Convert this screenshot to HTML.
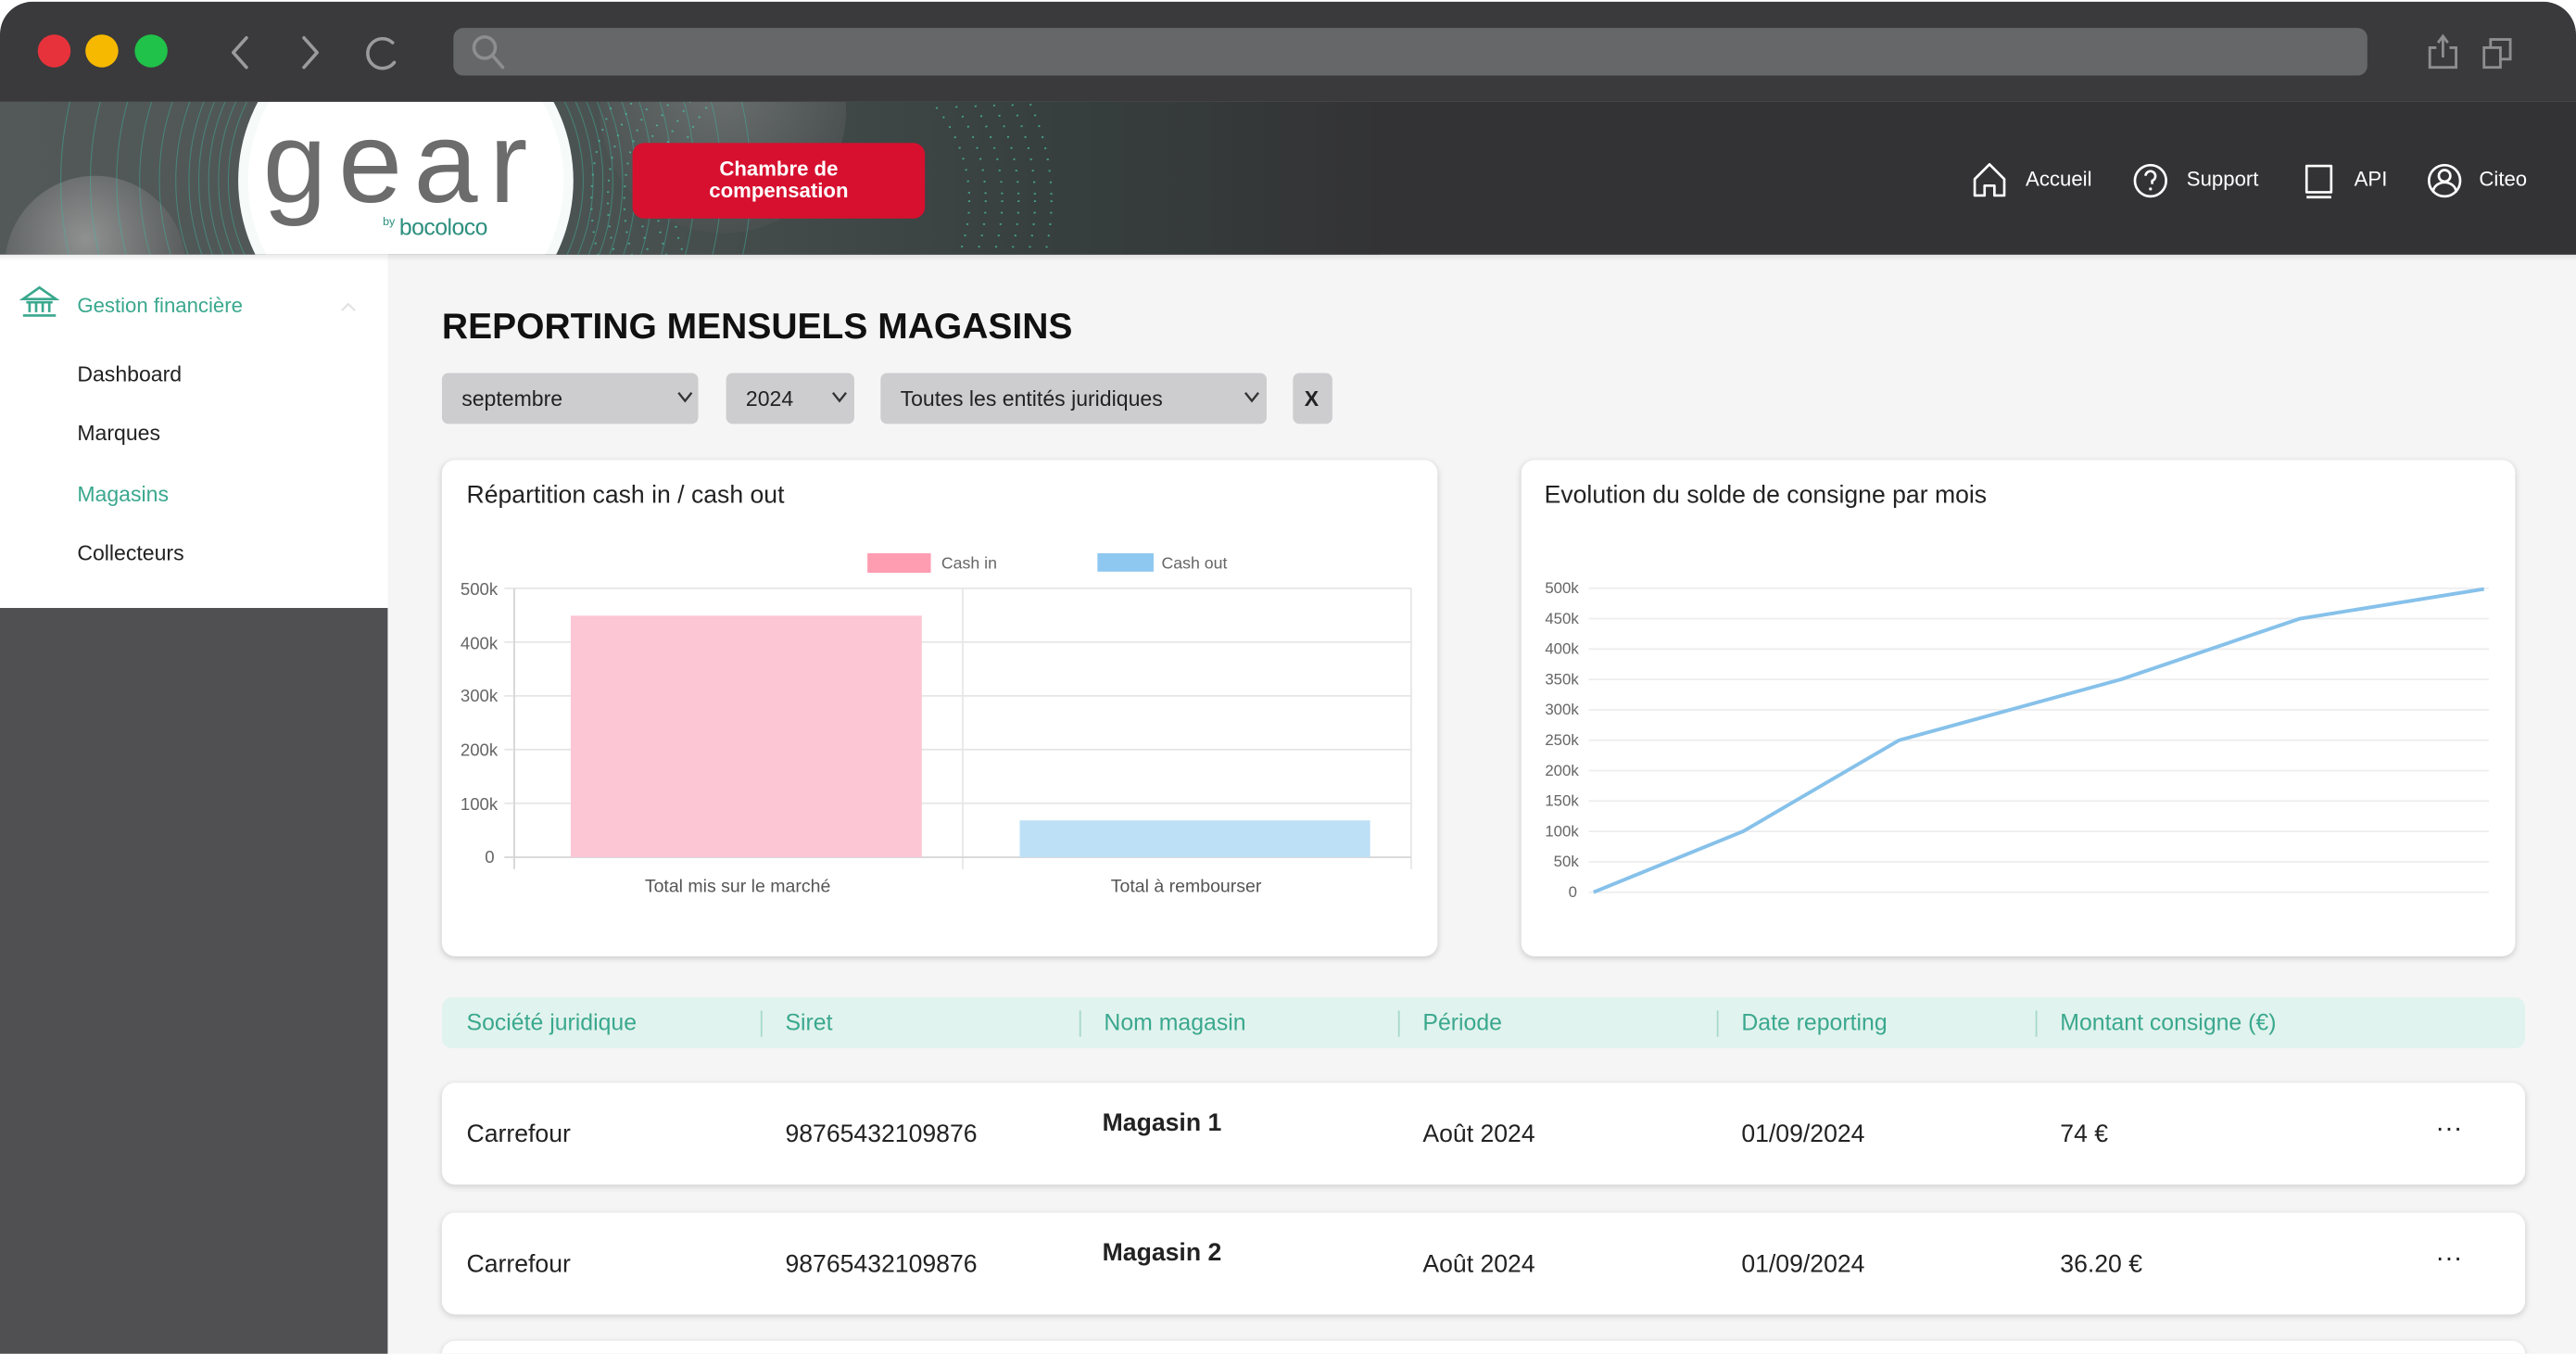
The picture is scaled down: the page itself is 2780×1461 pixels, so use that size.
<!DOCTYPE html>
<html><head><meta charset="utf-8">
<style>
html,body{margin:0;padding:0;width:2780px;height:1461px;overflow:hidden;background:#fff;}
#s{position:absolute;left:0;top:0;width:1568px;height:824px;transform:scale(1.772959);transform-origin:0 0;font-family:"Liberation Sans",sans-serif;overflow:hidden;}
.abs{position:absolute;}
#win{position:absolute;left:0;top:1px;width:1568px;height:823px;border-radius:20px 20px 0 0;overflow:hidden;background:#f5f5f5;}
#chrome{position:absolute;left:0;top:0;width:1568px;height:61px;background:#3a3a3c;}
.dot{position:absolute;width:20px;height:20px;border-radius:50%;top:20px;}
#addr{position:absolute;left:276px;top:16px;width:1165px;height:29px;border-radius:6px;background:#666769;}
#hdr{position:absolute;left:0;top:61px;width:1568px;height:93px;background:#333335;overflow:hidden;}
.nav{position:absolute;top:101px;color:#fff;font-size:12.5px;}
#side{position:absolute;left:0;top:154px;width:236px;height:215px;background:#fff;}
#sidedark{position:absolute;left:0;top:369px;width:236px;height:454px;background:#505052;}
.si{position:absolute;left:47px;font-size:13px;color:#222;}
.sel{position:absolute;top:226px;height:31px;background:#cdcdcf;border-radius:4px;font-size:13px;color:#222;line-height:31px;box-sizing:border-box;padding-left:12px;}
.sel svg{position:absolute;top:11px;}
.card{position:absolute;top:279px;height:302px;background:#fff;border-radius:8px;box-shadow:0 1px 4px rgba(0,0,0,0.18);}
.ct{position:absolute;left:15px;top:13px;font-size:15px;color:#222;}
#th{position:absolute;left:269px;top:606px;width:1268px;height:31px;background:#e1f3ee;border-radius:6px;}
.thc{position:absolute;top:7px;font-size:14px;color:#3aa88e;}
.sep{position:absolute;top:8px;width:1px;height:16px;background:#a5d9cb;}
.row{position:absolute;left:269px;width:1268px;height:62px;background:#fff;border-radius:8px;box-shadow:0 1px 4px rgba(0,0,0,0.16);}
.rc{position:absolute;font-size:15px;color:#222;}
</style></head><body>
<div id="s">
<div id="win">
  <div id="chrome">
    <div class="dot" style="left:23px;background:#e8323b;"></div>
    <div class="dot" style="left:52px;background:#f6b900;"></div>
    <div class="dot" style="left:82px;background:#20c24a;"></div>
    <svg class="abs" style="left:0;top:0" width="1568" height="61">
      <polyline points="150,22 142,31 150,40" fill="none" stroke="#9b9b9d" stroke-width="2" stroke-linecap="round" stroke-linejoin="round"/>
      <polyline points="185,22 193,31 185,40" fill="none" stroke="#9b9b9d" stroke-width="2" stroke-linecap="round" stroke-linejoin="round"/>
      <path d="M239,25 A9,9 0 1 0 240,37" fill="none" stroke="#9b9b9d" stroke-width="2" stroke-linecap="round"/>
    </svg>
    <div id="addr"></div>
    <svg class="abs" style="left:0;top:0" width="1568" height="61">
      <circle cx="295" cy="28" r="6.5" fill="none" stroke="#8e8e90" stroke-width="2"/>
      <line x1="300" y1="33" x2="306" y2="40" stroke="#8e8e90" stroke-width="2" stroke-linecap="round"/>
      <path d="M1483,28 h-4 v12 h16 v-12 h-4" fill="none" stroke="#8e8e90" stroke-width="1.6"/>
      <line x1="1487" y1="22" x2="1487" y2="34" stroke="#8e8e90" stroke-width="1.6"/>
      <polyline points="1484,25 1487,21 1490,25" fill="none" stroke="#8e8e90" stroke-width="1.6"/>
      <rect x="1512" y="28" width="10" height="12" fill="none" stroke="#8e8e90" stroke-width="1.6"/>
      <path d="M1516,28 v-5 h12 v12 h-6" fill="none" stroke="#8e8e90" stroke-width="1.6"/>
    </svg>
  </div>
  <div id="hdr">
    <svg class="abs" style="left:0;top:0" width="1568" height="93">
      <defs>
        <linearGradient id="hg" x1="0" x2="1" y1="0" y2="0">
          <stop offset="0" stop-color="#535959"/>
          <stop offset="0.4" stop-color="#4c5453"/>
          <stop offset="0.75" stop-color="#37403f"/>
          <stop offset="1" stop-color="#333335"/>
        </linearGradient>
        <radialGradient id="sph" cx="0.45" cy="0.35" r="0.6">
          <stop offset="0" stop-color="#8f9191"/>
          <stop offset="1" stop-color="#555858"/>
        </radialGradient>
        <radialGradient id="sph2" cx="0.5" cy="0.4" r="0.6">
          <stop offset="0" stop-color="#7e8181"/>
          <stop offset="1" stop-color="#4c5151"/>
        </radialGradient>
      </defs>
      <rect x="0" y="0" width="840" height="93" fill="url(#hg)"/>
      <circle cx="440" cy="5" r="75" fill="url(#sph2)" opacity="0.65"/>
      <circle cx="58" cy="100" r="55" fill="url(#sph)"/>
      <g fill="none" stroke="#3fb9a3" stroke-width="0.6" opacity="0.45">
        <circle cx="247" cy="48" r="108"/><circle cx="247" cy="48" r="114"/><circle cx="247" cy="48" r="120"/>
        <circle cx="247" cy="48" r="126"/><circle cx="247" cy="48" r="132"/><circle cx="247" cy="48" r="140"/>
        <circle cx="247" cy="48" r="150"/><circle cx="247" cy="48" r="162"/><circle cx="247" cy="48" r="176"/>
        <circle cx="247" cy="48" r="192"/><circle cx="247" cy="48" r="210"/>
      </g>
      <g fill="none" stroke="#4cc7ae" stroke-width="1.2" stroke-dasharray="1 6" opacity="0.7">
        <circle cx="500" cy="60" r="90"/><circle cx="500" cy="60" r="100"/><circle cx="500" cy="60" r="110"/>
        <circle cx="500" cy="60" r="120"/><circle cx="500" cy="60" r="130"/><circle cx="500" cy="60" r="140"/>
      </g>
      <circle cx="247" cy="48" r="102" fill="#f6fbfa"/>
      <circle cx="247" cy="48" r="96" fill="#ffffff"/>
    </svg>
    <div class="abs" style="left:160px;top:2px;font-size:70px;color:#6c6c6c;letter-spacing:7px;line-height:70px;font-weight:normal;">gear</div>
    <div class="abs" style="left:233px;top:70px;font-size:7px;color:#2c8f7e;">by</div>
    <div class="abs" style="left:243px;top:68px;font-size:14px;color:#2c8f7e;letter-spacing:-0.3px;">bocoloco</div>
    <div class="abs" style="left:385px;top:25px;width:178px;height:46px;border-radius:7px;background:#d7102f;display:flex;align-items:center;justify-content:center;text-align:center;color:#fff;font-size:12.5px;line-height:13px;font-weight:bold;">Chambre de<br>compensation</div>
  </div>
  <svg class="abs" style="left:0;top:0" width="1568" height="160">
    <g fill="none" stroke="#fff" stroke-width="1.5" stroke-linejoin="round">
      <path d="M1202,108 L1211,99 L1220,108 L1220,118 L1214,118 L1214,112 L1208,112 L1208,118 L1202,118 Z"/>
      <circle cx="1309" cy="109" r="9.5"/>
      <path d="M1306,106 a3,3 0 1 1 4,3 v2"/>
      <rect x="1404" y="100" width="15" height="16"/>
      <line x1="1404" y1="119" x2="1419" y2="119"/>
      <circle cx="1488" cy="109" r="9.5"/>
      <circle cx="1488" cy="106" r="3.5"/>
      <path d="M1481,116 a7,6 0 0 1 14,0"/>
    </g>
    <circle cx="1309" cy="114" r="0.9" fill="#fff"/>
  </svg>
  <div class="nav" style="left:1233px;">Accueil</div>
  <div class="nav" style="left:1331px;">Support</div>
  <div class="nav" style="left:1433px;">API</div>
  <div class="nav" style="left:1509px;">Citeo</div>

  <div id="side">
    <svg class="abs" style="left:0;top:0" width="236" height="60">
      <g fill="none" stroke="#3aa88e" stroke-width="1.5">
        <path d="M14,27 L24,20 L34,27 Z"/>
        <line x1="16" y1="29" x2="32" y2="29"/>
        <line x1="18" y1="29" x2="18" y2="35"/>
        <line x1="22" y1="29" x2="22" y2="35"/>
        <line x1="26" y1="29" x2="26" y2="35"/>
        <line x1="30" y1="29" x2="30" y2="35"/>
        <line x1="14" y1="37" x2="34" y2="37"/>
      </g>
      <polyline points="208,34 212,30 216,34" fill="none" stroke="#e2e2e2" stroke-width="1.2"/>
    </svg>
    <div class="si" style="top:24px;font-size:12.5px;color:#3aa88e;">Gestion financière</div>
    <div class="si" style="top:65px;">Dashboard</div>
    <div class="si" style="top:101px;">Marques</div>
    <div class="si" style="top:138px;color:#3aa88e;">Magasins</div>
    <div class="si" style="top:174px;">Collecteurs</div>
  </div>
  <div id="sidedark"></div>
  <div class="abs" style="left:0;top:154px;width:1568px;height:4px;background:linear-gradient(rgba(0,0,0,0.08),rgba(0,0,0,0));"></div>

  <div class="abs" style="left:269px;top:185px;font-size:22px;font-weight:bold;color:#111;">REPORTING MENSUELS MAGASINS</div>

  <div class="sel" style="left:269px;width:156px;">septembre<svg style="left:143px" width="10" height="8"><polyline points="1,1 5,6 9,1" fill="none" stroke="#333" stroke-width="1.3"/></svg></div>
  <div class="sel" style="left:442px;width:78px;">2024<svg style="left:64px" width="10" height="8"><polyline points="1,1 5,6 9,1" fill="none" stroke="#333" stroke-width="1.3"/></svg></div>
  <div class="sel" style="left:536px;width:235px;">Toutes les entités juridiques<svg style="left:221px" width="10" height="8"><polyline points="1,1 5,6 9,1" fill="none" stroke="#333" stroke-width="1.3"/></svg></div>
  <div class="sel" style="left:787px;width:24px;padding-left:7px;font-weight:bold;">X</div>

  <div class="card" style="left:269px;width:606px;"><div class="ct">Répartition cash in / cash out</div></div>
  <div class="card" style="left:926px;width:605px;"><div class="ct" style="left:14px;">Evolution du solde de consigne par mois</div></div>

  <svg class="abs" style="left:0;top:0" width="1568" height="823" font-family="Liberation Sans, sans-serif">
    <g stroke="#e6e6e6" stroke-width="1">
      <line x1="307" y1="357.1" x2="859" y2="357.1"/>
      <line x1="307" y1="389.8" x2="859" y2="389.8"/>
      <line x1="307" y1="422.5" x2="859" y2="422.5"/>
      <line x1="307" y1="455.2" x2="859" y2="455.2"/>
      <line x1="307" y1="487.9" x2="859" y2="487.9"/>
      <line x1="586" y1="357" x2="586" y2="528"/>
      <line x1="859" y1="357" x2="859" y2="528"/>
    </g>
    <line x1="313" y1="357" x2="313" y2="528" stroke="#d5d5d5"/>
    <line x1="307" y1="520.7" x2="859" y2="520.7" stroke="#d5d5d5"/>
    <rect x="347.4" y="373.7" width="213.7" height="147" fill="#fcc6d5"/>
    <rect x="620.7" y="498.3" width="213.3" height="22.4" fill="#bde0f6"/>
    <rect x="528" y="335.7" width="38.6" height="11.9" fill="#fe9db1"/>
    <rect x="668" y="335.7" width="34.2" height="11.2" fill="#8ec8f0"/>
    <g font-size="10" fill="#666">
      <text x="573" y="345">Cash in</text>
      <text x="707" y="345">Cash out</text>
    </g>
    <g font-size="10.5" fill="#666" text-anchor="end">
      <text x="303" y="361">500k</text>
      <text x="303" y="394">400k</text>
      <text x="303" y="426">300k</text>
      <text x="303" y="459">200k</text>
      <text x="303" y="492">100k</text>
      <text x="301" y="524">0</text>
    </g>
    <g font-size="11" fill="#555" text-anchor="middle">
      <text x="449" y="542">Total mis sur le marché</text>
      <text x="722" y="542">Total à rembourser</text>
    </g>
    <g stroke="#eeeeee" stroke-width="1">
      <line x1="967" y1="357" x2="1515" y2="357"/>
      <line x1="967" y1="375.5" x2="1515" y2="375.5"/>
      <line x1="967" y1="394" x2="1515" y2="394"/>
      <line x1="967" y1="412.5" x2="1515" y2="412.5"/>
      <line x1="967" y1="431" x2="1515" y2="431"/>
      <line x1="967" y1="449.5" x2="1515" y2="449.5"/>
      <line x1="967" y1="468" x2="1515" y2="468"/>
      <line x1="967" y1="486.5" x2="1515" y2="486.5"/>
      <line x1="967" y1="505" x2="1515" y2="505"/>
      <line x1="967" y1="523.5" x2="1515" y2="523.5"/>
      <line x1="967" y1="542" x2="1515" y2="542"/>
    </g>
    <g font-size="9.5" fill="#666" text-anchor="end">
      <text x="961" y="360">500k</text>
      <text x="961" y="378.5">450k</text>
      <text x="961" y="397">400k</text>
      <text x="961" y="415.5">350k</text>
      <text x="961" y="434">300k</text>
      <text x="961" y="452.5">250k</text>
      <text x="961" y="471">200k</text>
      <text x="961" y="489.5">150k</text>
      <text x="961" y="508">100k</text>
      <text x="961" y="526.5">50k</text>
      <text x="960" y="545">0</text>
    </g>
    <polyline points="970,542 1061,505 1156,449.5 1291,412.5 1400,375.5 1512,357.5" fill="none" stroke="#86c1ea" stroke-width="2.2" stroke-linejoin="round"/>
  </svg>

  <div id="th">
    <div class="thc" style="left:15px;">Société juridique</div>
    <div class="sep" style="left:194px;"></div>
    <div class="thc" style="left:209px;">Siret</div>
    <div class="sep" style="left:388px;"></div>
    <div class="thc" style="left:403px;">Nom magasin</div>
    <div class="sep" style="left:582px;"></div>
    <div class="thc" style="left:597px;">Période</div>
    <div class="sep" style="left:776px;"></div>
    <div class="thc" style="left:791px;">Date reporting</div>
    <div class="sep" style="left:970px;"></div>
    <div class="thc" style="left:985px;">Montant consigne (€)</div>
  </div>

  <div class="row" style="top:658px;">
    <div class="rc" style="left:15px;top:23px;">Carrefour</div>
    <div class="rc" style="left:209px;top:23px;">98765432109876</div>
    <div class="rc" style="left:402px;top:16px;font-weight:bold;">Magasin 1</div>
    <div class="rc" style="left:597px;top:23px;">Août 2024</div>
    <div class="rc" style="left:791px;top:23px;">01/09/2024</div>
    <div class="rc" style="left:985px;top:23px;">74 €</div>
    <div class="rc" style="left:1214px;top:16px;font-size:16px;letter-spacing:1px;">...</div>
  </div>
  <div class="row" style="top:737px;">
    <div class="rc" style="left:15px;top:23px;">Carrefour</div>
    <div class="rc" style="left:209px;top:23px;">98765432109876</div>
    <div class="rc" style="left:402px;top:16px;font-weight:bold;">Magasin 2</div>
    <div class="rc" style="left:597px;top:23px;">Août 2024</div>
    <div class="rc" style="left:791px;top:23px;">01/09/2024</div>
    <div class="rc" style="left:985px;top:23px;">36.20 €</div>
    <div class="rc" style="left:1214px;top:16px;font-size:16px;letter-spacing:1px;">...</div>
  </div>
  <div class="row" style="top:815px;height:8px;border-radius:8px 8px 0 0;"></div>
</div>
</div>
</body></html>
